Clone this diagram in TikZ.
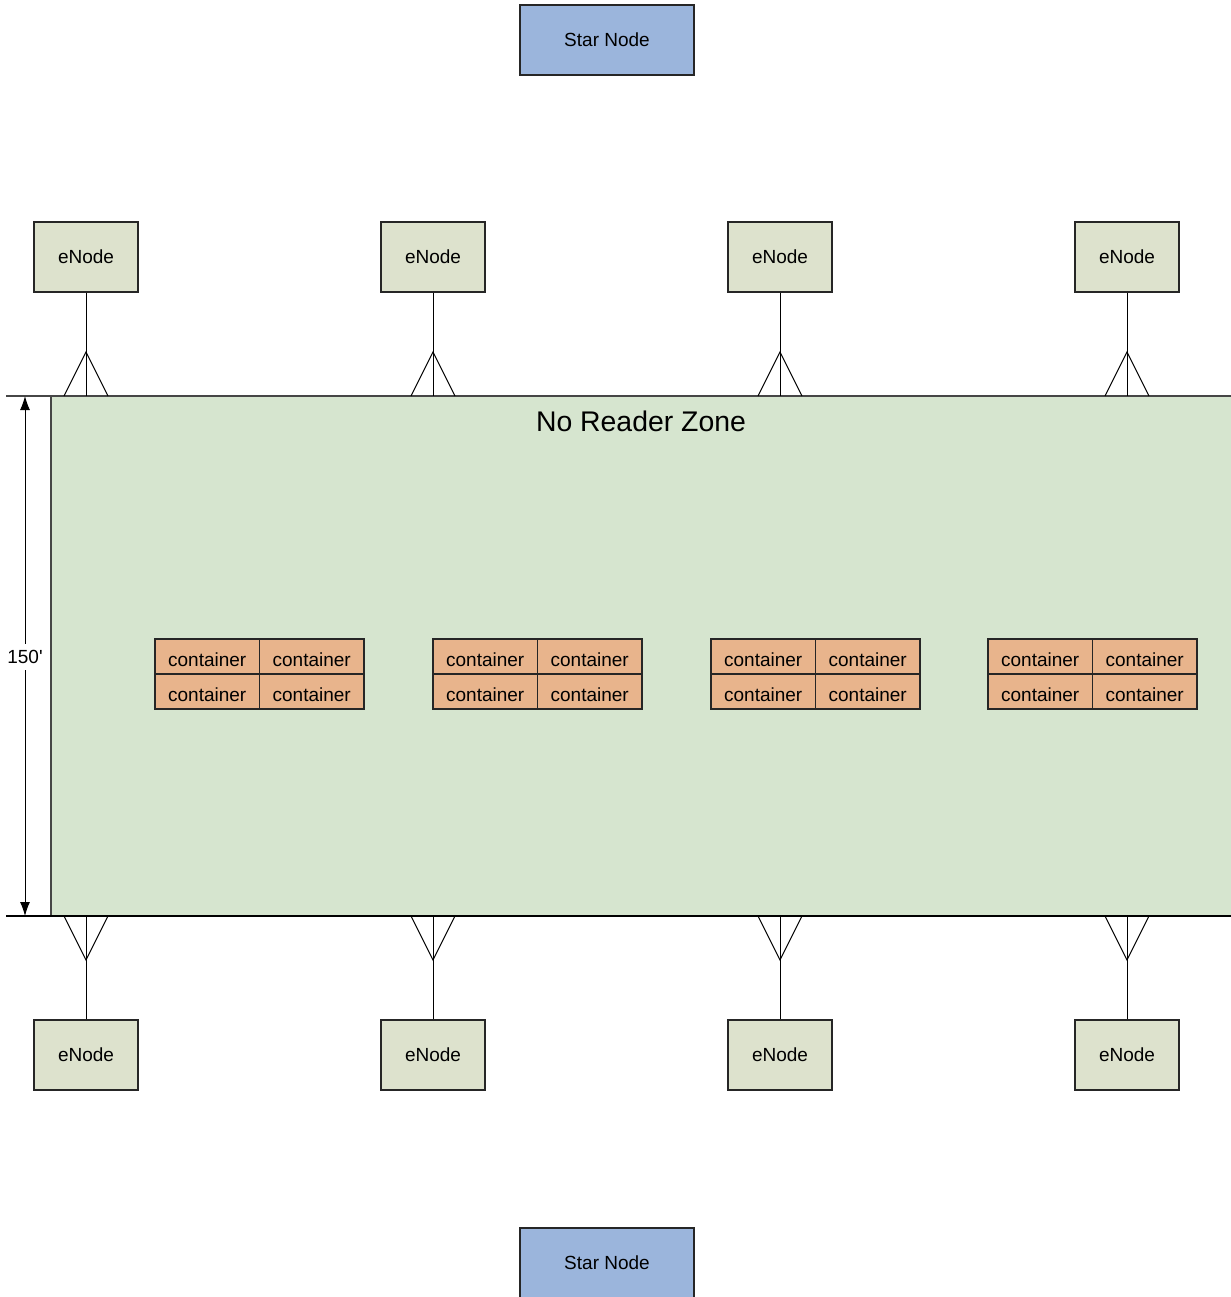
\documentclass[tikz,border=0pt]{standalone}
\usepackage{fontspec}
\setmainfont{Liberation Sans}
\newfontfamily\rawfont{Liberation Sans}[Ligatures=TeXOff]
\usetikzlibrary{arrows.meta}
\definecolor{zonefill}{RGB}{214,229,207}
\definecolor{contfill}{RGB}{232,180,140}
\definecolor{enodefill}{RGB}{221,226,205}
\definecolor{starfill}{RGB}{155,181,220}
\definecolor{edgegray}{RGB}{70,70,70}
\tikzset{
  box/.style={draw=black!85, line width=0.8pt, rectangle, inner sep=0pt, font=\fontsize{14.25}{17}\selectfont},
  enodebox/.style={box, fill=enodefill, minimum width=104*0.75pt, minimum height=70*0.75pt},
  starbox/.style={box, fill=starfill, minimum width=174*0.75pt, minimum height=70*0.75pt},
  contbox/.style={box, fill=contfill, minimum width=104.5*0.75pt, minimum height=35*0.75pt, text depth=0pt, text height=15pt},
  link/.style={draw=black, line width=0.75pt},
  dimarrow/.style={line width=0.75pt, {Latex[length=10.5pt,width=7.5pt]}-{Latex[length=10.5pt,width=7.5pt]}},
}
\begin{document}
\begin{tikzpicture}[x=0.75pt, y=-0.75pt]
\useasboundingbox (0,0) rectangle (1231,1297);
\clip (0,0) rectangle (1231,1297);
% zone
\node[fill=zonefill, draw=none, minimum width=1200*0.75pt, minimum height=520*0.75pt, inner sep=0pt, anchor=north west] (zone) at (51,396) {};
\draw[edgegray, line width=1pt] (51,396) -- (51,916);
\draw[edgegray, line width=1.2pt] (6,396) -- (1240,396);
\draw[black, line width=1.2pt] (6,916) -- (1240,916);
\node[font=\fontsize{21.3}{25}\selectfont] (title) at (641,421) {No Reader Zone};
% dimension
\coordinate (dtop) at (25,396);
\coordinate (dbot) at (25,916);
\draw[dimarrow] (dtop) -- (dbot);
\node[fill=white, inner xsep=1pt, inner ysep=5pt, font=\rawfont\fontsize{14.25}{17}\selectfont] (dim) at (25,657) {150'};
% star nodes
\node[starbox] (startop) at (607,40) {Star Node};
\node[starbox] (starbot) at (607,1263) {Star Node};
% eNodes and crow's feet
\foreach \i/\x in {1/86, 2/433, 3/780, 4/1127} {
  \node[enodebox] (et\i) at (\x,257) {eNode};
  \node[enodebox] (eb\i) at (\x,1055) {eNode};
  \coordinate (tt\i) at (\x,352);
  \coordinate (tb\i) at (\x,960);
  \draw[link] (et\i.south) -- (et\i.south |- zone.north);
  \draw[link] (\x-22,396) -- (tt\i) -- (\x+22,396);
  \draw[link] (eb\i.north) -- (eb\i.north |- zone.south);
  \draw[link] (\x-22,916) -- (tb\i) -- (\x+22,916);
}
% containers
\foreach \g/\l in {1/155, 2/433, 3/711, 4/988} {
  \node[contbox] (c\g a) at (\l+52.25,656.5) {container};
  \node[contbox] (c\g b) at (\l+156.75,656.5) {container};
  \node[contbox] (c\g c) at (\l+52.25,691.5) {container};
  \node[contbox] (c\g d) at (\l+156.75,691.5) {container};
}
\end{tikzpicture}
\end{document}
